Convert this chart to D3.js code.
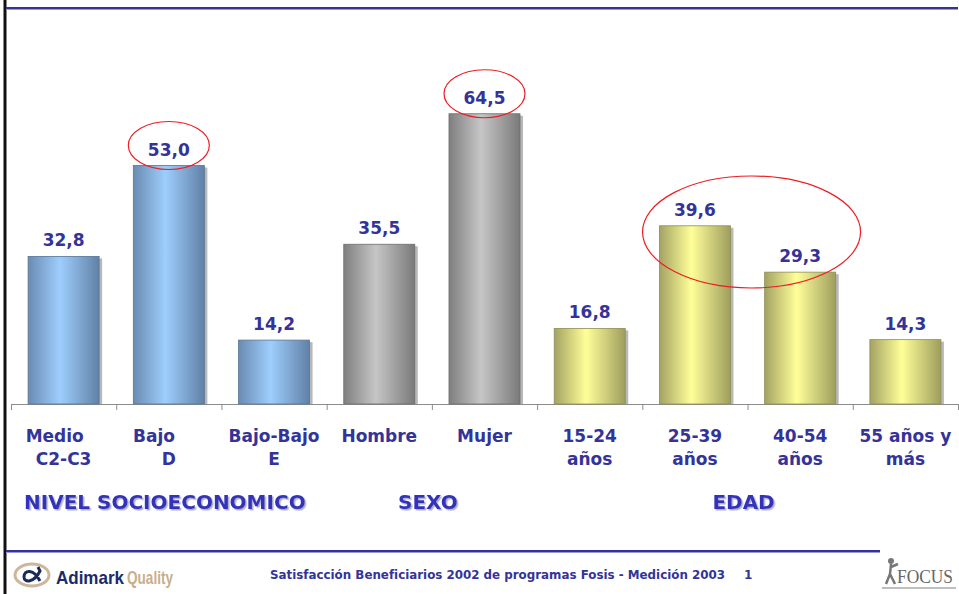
<!DOCTYPE html>
<html lang="es">
<head>
<meta charset="UTF-8">
<title>Satisfacción Beneficiarios</title>
<script src="https://cdn.jsdelivr.net/npm/d3@7"></script>
<style>
  body { margin: 0; background: #fff; }
  text { font-family: "DejaVu Sans", Verdana, sans-serif; font-weight: bold; white-space: pre; }
</style>
</head>
<body>
<div class="chart"></div>
<script>
  const width = 959
  const height = 594

  // data
  const categories = ['Medio C2-C3', 'Bajo D', 'Bajo-Bajo E', 'Hombre', 'Mujer', '15-24 años', '25-39 años', '40-54 años', '55 años y más']
  const catLines = [['Medio   ', 'C2-C3'], ['Bajo     ', 'D'], ['Bajo-Bajo', 'E'], ['Hombre'], ['Mujer'], ['15-24', 'años'], ['25-39', 'años'], ['40-54', 'años'], ['55 años y', 'más']]
  const values = [32.8, 53.0, 14.2, 35.5, 64.5, 16.8, 39.6, 29.3, 14.3]
  const groupOf = ['nse', 'nse', 'nse', 'sexo', 'sexo', 'edad', 'edad', 'edad', 'edad']
  const groupNames = ['nse', 'sexo', 'edad']
  const groupTitles = ['NIVEL SOCIOECONOMICO', 'SEXO', 'EDAD']
  const highlights = [['Bajo D'], ['Mujer'], ['25-39 años', '40-54 años']]
  const footerText = 'Satisfacción Beneficiarios 2002 de programas Fosis - Medición 2003'
  const pageNum = '1'

  const gradients = {
    nse: ['#6a8bb2', '#9ecefd', '#6181a7'],
    sexo: ['#7f7f7f', '#c6c6c6', '#7a7a7a'],
    edad: ['#a3a363', '#ffff99', '#9e9e5e']
  }

  const fmt = v => d3.format('.1f')(v).replace('.', ',')

  const svg = d3.select('.chart').append('svg')
    .attr('width', width).attr('height', height)

  const defs = svg.append('defs')
  groupNames.forEach(g => {
    const lg = defs.append('linearGradient').attr('id', 'grad-' + g)
      .attr('x1', '0%').attr('x2', '100%').attr('y1', '0%').attr('y2', '0%')
    const c = gradients[g]
    lg.append('stop').attr('offset', '0%').attr('stop-color', c[0])
    lg.append('stop').attr('offset', '45%').attr('stop-color', c[1])
    lg.append('stop').attr('offset', '100%').attr('stop-color', c[2])
  })
  const sh = defs.append('filter').attr('id', 'tshadow').attr('x', '-5%').attr('y', '-20%').attr('width', '110%').attr('height', '150%')
  sh.append('feDropShadow').attr('dx', 1.5).attr('dy', 1.5).attr('stdDeviation', 0.6).attr('flood-color', '#9a9ab8').attr('flood-opacity', 0.8)

  // frame lines
  svg.append('line').attr('x1', 5).attr('x2', 5).attr('y1', 0).attr('y2', height)
    .attr('stroke', '#111').attr('stroke-width', 3)
  svg.append('line').attr('x1', 6).attr('x2', 958).attr('y1', 8).attr('y2', 8)
    .attr('stroke', '#333399').attr('stroke-width', 2)
  svg.append('line').attr('x1', 6).attr('x2', 958).attr('y1', 9.5).attr('y2', 9.5)
    .attr('stroke', '#9999dd').attr('stroke-width', 1)
  svg.append('line').attr('x1', 6).attr('x2', 880).attr('y1', 551).attr('y2', 551)
    .attr('stroke', '#333399').attr('stroke-width', 2)
  svg.append('line').attr('x1', 6).attr('x2', 880).attr('y1', 552.5).attr('y2', 552.5)
    .attr('stroke', '#9999dd').attr('stroke-width', 1)

  // scales
  const xScale = d3.scaleBand()
    .domain(categories)
    .range([11, 958])
    .paddingInner(0.325).paddingOuter(0.1625)

  const yScale = d3.scaleLinear()
    .domain([0, 80])
    .range([404, 44])

  const tickScale = d3.scaleLinear().domain([0, categories.length]).range(xScale.range())

  // axis
  const axis = svg.append('g')
    .attr('transform', `translate(0, ${yScale(0)})`)
    .call(d3.axisBottom(tickScale).ticks(categories.length).tickFormat('').tickSize(6).tickSizeOuter(0))
  axis.select('.domain').attr('stroke', '#8c8c8c')
  axis.selectAll('.tick line').attr('stroke', '#8c8c8c')

  // bars
  const bars = svg.append('g').selectAll('g')
    .data(categories)
    .enter().append('g')

  bars.append('rect')
    .attr('x', d => xScale(d) + 3)
    .attr('y', (d, i) => yScale(values[i]) + 2)
    .attr('width', xScale.bandwidth())
    .attr('height', (d, i) => yScale(0) - yScale(values[i]) - 2)
    .attr('fill', '#b8b8b8')

  bars.append('rect')
    .attr('x', d => xScale(d))
    .attr('y', (d, i) => yScale(values[i]))
    .attr('width', xScale.bandwidth())
    .attr('height', (d, i) => yScale(0) - yScale(values[i]))
    .attr('fill', (d, i) => `url(#grad-${groupOf[i]})`)
    .attr('stroke', (d, i) => d3.color(gradients[groupOf[i]][2]).darker(0.3))
    .attr('stroke-width', 0.8)

  // value labels
  bars.append('text')
    .attr('x', d => xScale(d) + xScale.bandwidth() / 2)
    .attr('y', (d, i) => yScale(values[i]) - 10)
    .attr('text-anchor', 'middle')
    .attr('font-size', 17)
    .attr('fill', '#333399')
    .text((d, i) => fmt(values[i]))

  // category labels
  const catText = bars.append('text')
    .attr('text-anchor', 'middle')
    .attr('font-size', 17)
    .attr('fill', '#333399')
  catText.selectAll('tspan')
    .data((d, i) => catLines[i].map(l => ({ cat: d, line: l })))
    .enter().append('tspan')
    .attr('x', d => xScale(d.cat) + xScale.bandwidth() / 2)
    .attr('y', (d, j) => 442 + j * 23)
    .text(d => d.line)

  // group titles
  svg.append('g').selectAll('text')
    .data(groupNames)
    .enter().append('text')
    .attr('x', g => {
      const cats = categories.filter((c, i) => groupOf[i] === g)
      const x0 = xScale(cats[0]) - xScale.step() * xScale.paddingInner() / 2
      const x1 = xScale(cats[cats.length - 1]) + xScale.bandwidth() + xScale.step() * xScale.paddingInner() / 2
      return (x0 + x1) / 2 - 4
    })
    .attr('y', 509)
    .attr('text-anchor', 'middle')
    .attr('font-size', 20)
    .attr('fill', '#3333bb')
    .attr('filter', 'url(#tshadow)')
    .text((g, i) => groupTitles[i])

  // highlight ellipses
  svg.append('g').selectAll('ellipse')
    .data(highlights)
    .enter().append('ellipse')
    .attr('cx', h => d3.mean(h, c => xScale(c) + xScale.bandwidth() / 2) + (h.length > 1 ? 4 : 0))
    .attr('cy', h => d3.mean(h, c => yScale(values[categories.indexOf(c)])) - (h.length > 1 ? 17 : 20))
    .attr('rx', h => h.length > 1 ? 109 : 40.5)
    .attr('ry', h => h.length > 1 ? 56 : 24)
    .attr('fill', 'none')
    .attr('stroke', '#ee1c24')
    .attr('stroke-width', 1.2)

  // footer
  svg.append('text')
    .attr('x', 270).attr('y', 579)
    .attr('font-size', 12)
    .attr('fill', '#333399')
    .attr('textLength', 455).attr('lengthAdjust', 'spacingAndGlyphs')
    .text(footerText)
  svg.append('text')
    .attr('x', 744).attr('y', 579)
    .attr('font-size', 12)
    .attr('fill', '#333399')
    .text(pageNum)

  // Adimark logo
  const logo = svg.append('g').attr('transform', 'translate(10, 562)')
  logo.append('ellipse').attr('cx', 22).attr('cy', 13).attr('rx', 17).attr('ry', 11)
    .attr('fill', 'none').attr('stroke', '#cdb79a').attr('stroke-width', 3)
  logo.append('path').attr('d', 'M14 15 C14 7 24 7 30 19 M14 15 C14 21 24 21 30 9 L28 5')
    .attr('fill', 'none').attr('stroke', '#1b2a5a').attr('stroke-width', 3)
  logo.append('text').attr('x', 46).attr('y', 22)
    .style('font-family', '"Liberation Sans Narrow", "Liberation Sans", sans-serif')
    .attr('font-size', 19).attr('fill', '#1b2a6a')
    .attr('textLength', 68).attr('lengthAdjust', 'spacingAndGlyphs')
    .text('Adimark')
  logo.append('text').attr('x', 117).attr('y', 22)
    .style('font-family', '"Liberation Sans Narrow", "Liberation Sans", sans-serif')
    .attr('font-size', 19).attr('fill', '#c8ae8c')
    .attr('textLength', 46).attr('lengthAdjust', 'spacingAndGlyphs')
    .text('Quality')

  // FOCUS logo
  const focus = svg.append('g').attr('transform', 'translate(882, 556)')
  focus.append('circle').attr('cx', 9).attr('cy', 5).attr('r', 3).attr('fill', '#777')
  focus.append('path').attr('d', 'M9 8 L8 18 L4 28 M8 18 L13 28 M9 11 L16 8')
    .attr('stroke', '#777').attr('stroke-width', 2.5).attr('fill', 'none')
  focus.append('text').attr('x', 15).attr('y', 27)
    .style('font-family', '"Liberation Serif", serif').style('font-weight', 'normal')
    .attr('font-size', 18).attr('fill', '#666')
    .attr('textLength', 56).attr('lengthAdjust', 'spacingAndGlyphs')
    .text('FOCUS')
  focus.append('line').attr('x1', 0).attr('x2', 74).attr('y1', 32).attr('y2', 32)
    .attr('stroke', '#aaa').attr('stroke-width', 1.5)
</script>
</body>
</html>
